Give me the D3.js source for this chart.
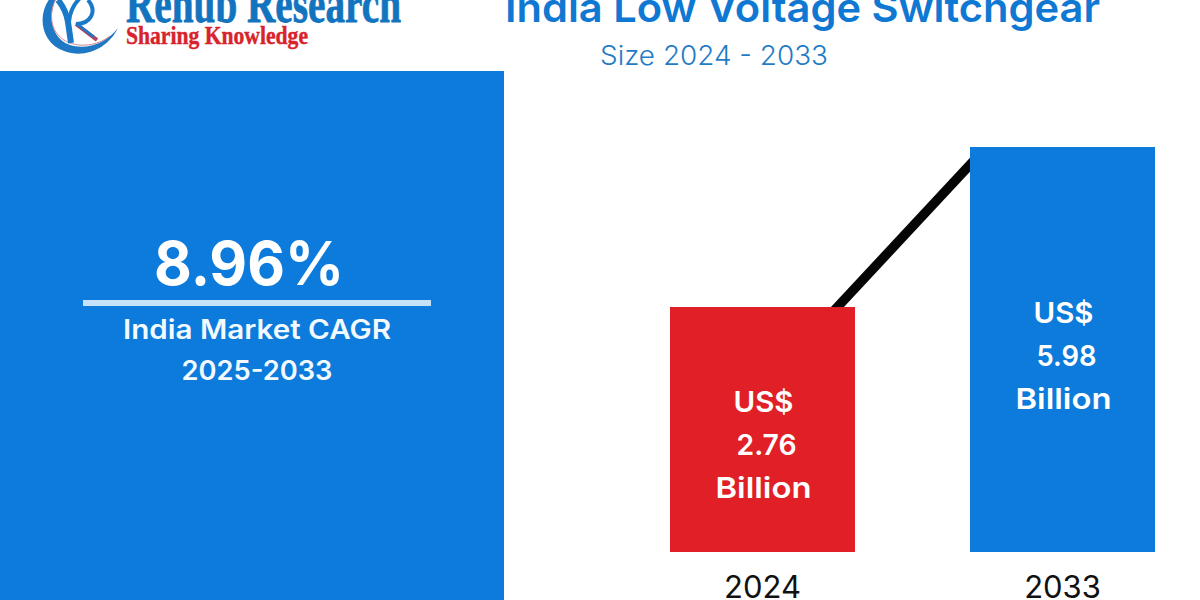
<!DOCTYPE html>
<html>
<head>
<meta charset="utf-8">
<script src="https://cdn.jsdelivr.net/npm/d3@7"></script>
<style>
    html, body { margin: 0; padding: 0; background: #fff; overflow: hidden; }
    svg { display: block; }
    text { font-family: Inter, sans-serif; }
</style>
</head>
<body>
<svg id="chart" width="1200" height="600"></svg>
<script>
    var years = ['2024', '2033'];
    var marketSize = [2.76, 5.98];
    var barColors = ['#e01f26', '#0c7bdc'];
    var valueLines = [['US$', '2.76', 'Billion'], ['US$', '5.98', 'Billion']];
    var cagrValue = '8.96%';
    var cagrLines = ['India Market CAGR', '2025-2033'];
    var chartTitle = 'India Low Voltage Switchgear';
    var chartSubtitle = 'Size 2024 - 2033';

    var blue = '#0c7bdc';
    var svg = d3.select('#chart');

    // --- logo ---
    var logo = svg.append('g');
    logo.append('path')
        .attr('d', 'M56,-8 C36,8 38,42 64,51 C86,59 108,48 118,28 C106,44 86,50 70,45 C50,38 46,12 60,-8 Z')
        .attr('fill', '#1f78c4');
    logo.append('path')
        .attr('d', 'M59,-6 C46,12 50,36 70,43 C84,48 100,44 110,36')
        .attr('fill', 'none').attr('stroke', '#d98a94').attr('stroke-width', 1);
    var strokes = [
        ['M58,0 Q66,10 68,22 L71,43', '#1b7ac8', 6],
        ['M80,-2 Q70,8 69,22', '#1b7ac8', 4],
        ['M76,24 L97,40', '#b3435f', 4],
        ['M76,23 L94,37', '#1b7ac8', 2.5],
        ['M76,24 C90,24 98,12 88,0', '#1b7ac8', 4]
    ];
    logo.selectAll('.logo-stroke')
        .data(strokes)
        .enter().append('path')
        .attr('class', 'logo-stroke')
        .attr('d', function(d) { return d[0]; })
        .attr('fill', 'none')
        .attr('stroke', function(d) { return d[1]; })
        .attr('stroke-width', function(d) { return d[2]; });
    logo.append('text')
        .attr('x', 126).attr('y', 22)
        .attr('textLength', 275).attr('lengthAdjust', 'spacingAndGlyphs')
        .style('font-family', '"Liberation Serif", serif')
        .style('font-weight', 700).style('font-size', '54px')
        .attr('fill', '#1274bf').attr('stroke', '#1274bf').attr('stroke-width', 0.8)
        .text('Renub Research');
    logo.append('text')
        .attr('x', 126).attr('y', 44)
        .attr('textLength', 182).attr('lengthAdjust', 'spacingAndGlyphs')
        .style('font-family', '"Liberation Serif", serif')
        .style('font-weight', 700).style('font-size', '25px')
        .attr('fill', '#d8232c').attr('stroke', '#d8232c').attr('stroke-width', 0.4)
        .text('Sharing Knowledge');

    // --- title ---
    svg.append('text')
        .attr('x', 505).attr('y', 22)
        .attr('textLength', 595).attr('lengthAdjust', 'spacingAndGlyphs')
        .style('font-weight', 600).style('font-size', '40px')
        .attr('fill', '#0f78d2')
        .text(chartTitle);
    svg.append('text')
        .attr('x', 600).attr('y', 65)
        .attr('textLength', 228).attr('lengthAdjust', 'spacingAndGlyphs')
        .style('font-weight', 300).style('font-size', '27px')
        .attr('fill', '#1f7cc4')
        .text(chartSubtitle);

    // --- left panel ---
    svg.append('rect')
        .attr('x', 0).attr('y', 71)
        .attr('width', 504).attr('height', 529)
        .attr('fill', blue);
    svg.append('text')
        .attr('x', 154).attr('y', 285)
        .attr('textLength', 190).attr('lengthAdjust', 'spacingAndGlyphs')
        .style('font-weight', 700).style('font-size', '61px')
        .attr('fill', '#fff')
        .text(cagrValue);
    svg.append('rect')
        .attr('x', 83).attr('y', 300)
        .attr('width', 348).attr('height', 6)
        .attr('fill', '#c6e2f8');
    var cagrWidths = [268, 151];
    svg.selectAll('.cagr-line')
        .data(cagrLines)
        .enter().append('text')
        .attr('class', 'cagr-line')
        .attr('x', 257)
        .attr('y', function(d, i) { return 339 + i * 41; })
        .attr('text-anchor', 'middle')
        .attr('textLength', function(d, i) { return cagrWidths[i]; })
        .attr('lengthAdjust', 'spacingAndGlyphs')
        .style('font-weight', 600).style('font-size', '26.5px')
        .attr('fill', '#f2f9ff')
        .text(function(d) { return d; });

    // --- bars ---
    var x = d3.scaleBand()
        .domain(years)
        .range([670, 1155])
        .paddingInner(115 / 300)
        .paddingOuter(0);

    // the picture's bars do not start at zero, so the domain does not either
    var y = d3.scaleLinear()
        .domain([-2.17, 5.98])
        .range([552, 147]);

    // connector runs behind the bars, from the first bar's top to the second's shoulder
    var connector = d3.line()
        .x(function(d) { return d[0]; })
        .y(function(d) { return d[1]; });
    svg.append('path')
        .attr('d', connector([
            [x(years[0]) + 160, y(marketSize[0]) + 8],
            [x(years[1]) + 10, y(marketSize[1]) + 7]
        ]))
        .attr('fill', 'none')
        .attr('stroke', '#050505')
        .attr('stroke-width', 9.5);

    svg.selectAll('.bar')
        .data(years)
        .enter().append('rect')
        .attr('class', 'bar')
        .attr('x', function(d) { return x(d); })
        .attr('y', function(d, i) { return y(marketSize[i]); })
        .attr('width', x.bandwidth())
        .attr('height', function(d, i) { return y.range()[0] - y(marketSize[i]); })
        .attr('fill', function(d, i) { return barColors[i]; });

    var labelOffset = [105, 176];
    var labelWidths = [60, 60, 96];
    years.forEach(function(year, i) {
        svg.selectAll('.value-' + year)
            .data(valueLines[i])
            .enter().append('text')
            .attr('class', 'value-' + year)
            .attr('x', x(year) + x.bandwidth() / 2 + 1)
            .attr('dx', function(d, j) { return j === 1 ? 3 : 0; })
            .attr('y', function(d, j) { return y(marketSize[i]) + labelOffset[i] + j * 43; })
            .attr('text-anchor', 'middle')
            .attr('textLength', function(d, j) { return labelWidths[j]; })
            .attr('lengthAdjust', 'spacingAndGlyphs')
            .style('font-weight', 600).style('font-size', '29px')
            .attr('fill', '#fff')
            .text(function(d) { return d; });
    });

    // --- year axis ---
    var axis = svg.append('g')
        .attr('transform', 'translate(0,552)')
        .call(d3.axisBottom(x).tickSize(0).tickPadding(0));
    axis.select('.domain').remove();
    axis.selectAll('text')
        .attr('y', 46).attr('dy', 0)
        .style('font-family', 'Inter, sans-serif')
        .style('font-weight', 400)
        .style('font-size', '31px')
        .attr('fill', '#111');
</script>
</body>
</html>
